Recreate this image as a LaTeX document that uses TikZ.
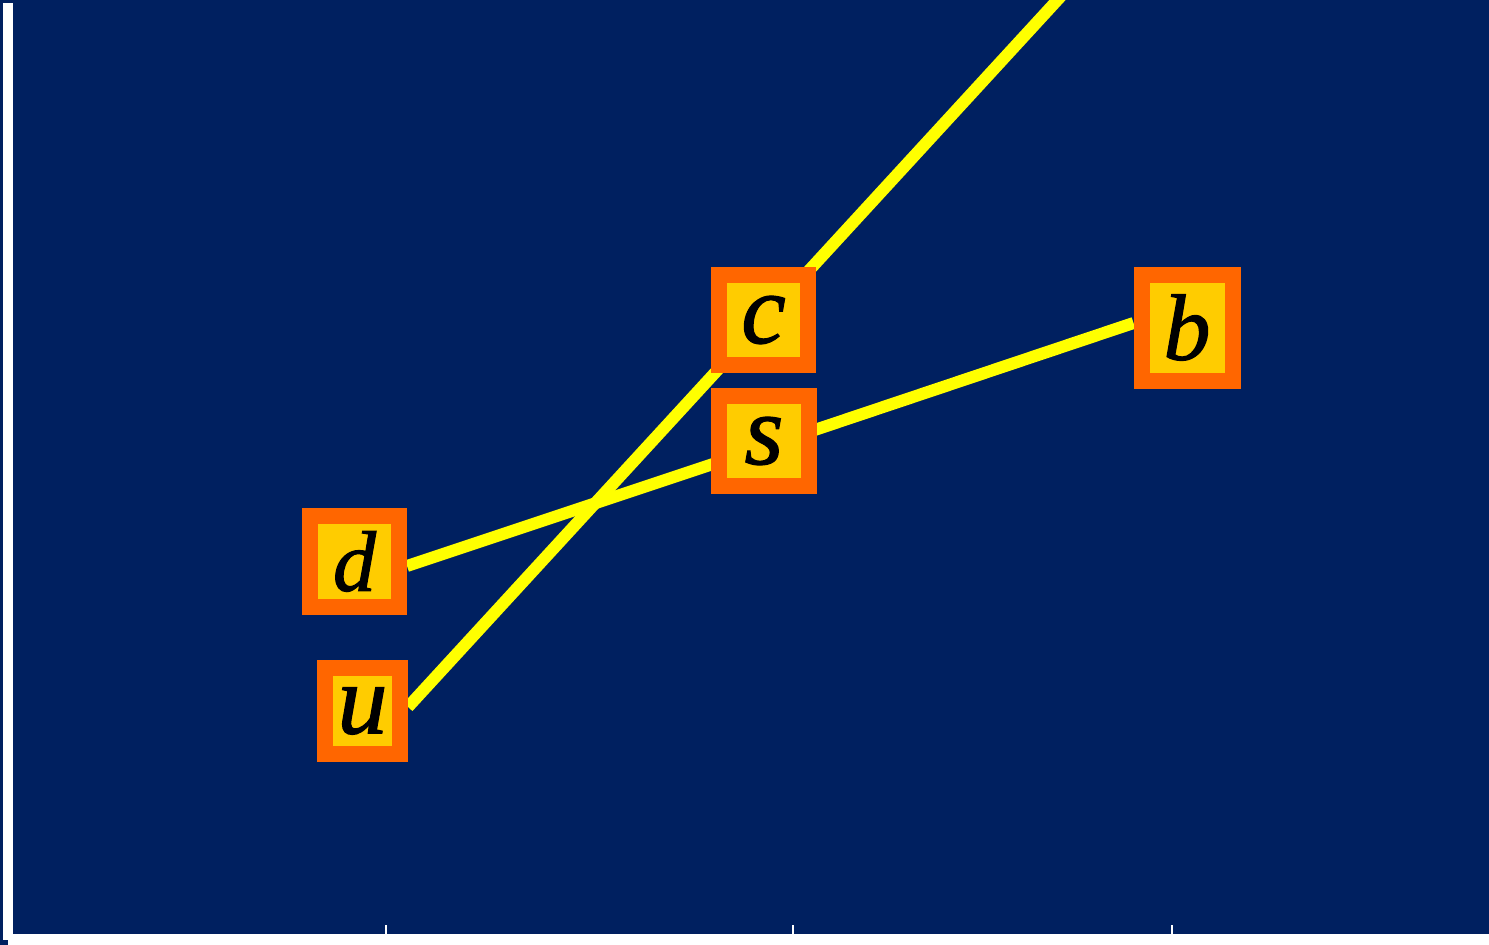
\documentclass[tikz,border=0pt]{standalone}
\usepackage{fontspec}
\setmainfont{Liberation Serif}
\newfontfamily\letterfont{Liberation Serif Italic}[FakeBold=1.2]
\usepackage{tikz}
\usetikzlibrary{calc, backgrounds}

\definecolor{navy}{RGB}{0,32,96}
\definecolor{boxorange}{RGB}{255,102,0}
\definecolor{boxgold}{RGB}{255,204,0}
\definecolor{wireyellow}{RGB}{255,255,0}

\begin{document}
\begin{tikzpicture}[x=1pt, y=-1pt,
    letter/.style={rectangle, draw=boxorange, line width=16pt, fill=boxgold,
        inner sep=0pt, font=\letterfont\fontsize{100}{100}\selectfont},
    wire/.style={wireyellow, line width=12pt},
    tick/.style={white, line width=2pt}]
    % Frame
    \useasboundingbox (0,0) rectangle (1489,945);

    % Letter boxes
    \node[letter, minimum width=89pt, minimum height=90pt]  (c) at (763.5,320)  {c};
    \node[letter, minimum width=90pt, minimum height=90pt]  (s) at (764,441)    {s};
    \node[letter, minimum width=91pt, minimum height=106pt,
          font=\letterfont\fontsize{94}{94}\selectfont]     (b) at (1187,327.5) {b};
    \node[letter, minimum width=89pt, minimum height=91pt,
          font=\letterfont\fontsize{86}{86}\selectfont]     (d) at (354.5,561.5) {d};
    \node[letter, minimum width=75pt, minimum height=86pt]  (u) at (362.5,711)  {u};

    % Background and lines behind the boxes
    \begin{scope}[on background layer]
        \fill[navy] (0,0) rectangle (1489,945);
        \clip (0,0) rectangle (1489,945);
        \coordinate (ufoot) at ([yshift=4pt]u.east);
        \coordinate (ctop) at ($(ufoot)!1.9!(c.center)$);
        \draw[wire] (ufoot) -- (c.center) -- (ctop);
        \draw[wire] ([yshift=-4.5pt]d.east) -- (s.center |- 0,447) -- ([yshift=4.5pt]b.west);
    \end{scope}

    % Axes
    \fill[white] (3,3) rectangle (13,940);
    \fill[white] (8,934) rectangle (1489,945);
    \foreach \x in {386, 793, 1172} {
        \draw[tick] (\x,925) -- (\x,934);
    }
\end{tikzpicture}
\end{document}
